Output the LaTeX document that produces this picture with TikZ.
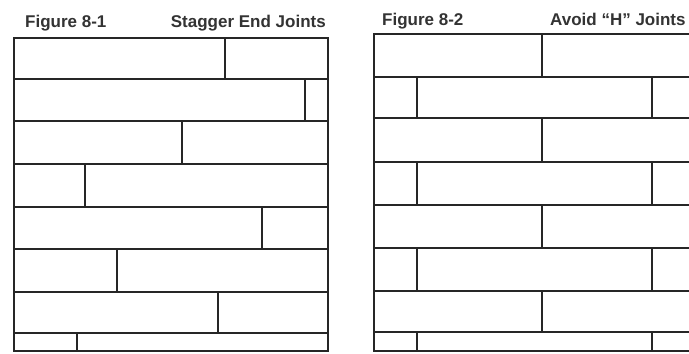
\documentclass[tikz,border=0pt]{standalone}
\usepackage{fontspec}
\setmainfont{Liberation Sans}
\begin{document}
\begin{tikzpicture}[x=1bp,y=-1bp,
  brick/.style={line width=2.5bp, draw=black!85, line cap=rect},
  caption/.style={font=\fontsize{17bp}{19bp}\selectfont\bfseries, text=black!80, inner sep=0pt, anchor=base west}]
\useasboundingbox (0,0) rectangle (689,353);
\clip (0,0) rectangle (689,353);
\fill[white] (0,0) rectangle (689,353);
% titles
\node[caption] (t1) at (25,27) {Figure 8-1};
\node[caption, anchor=base east] (t2) at (326,27) {Stagger End Joints};
\node[caption] (t3) at (382,25) {Figure 8-2};
\node[caption] (t4) at (550,25) {Avoid “H” Joints};
% left figure: staggered joints
\draw[brick] (14,38) rectangle (328,351);
\foreach \y in {79,121,164,207,249,292,333} \draw[brick] (14,\y) -- (328,\y);
\foreach \x/\ya/\yb in {225/38/79, 305/79/121, 182/121/164, 85/164/207, 262/207/249, 117/249/292, 218/292/333, 77/333/351}
  \draw[brick] (\x,\ya) -- (\x,\yb);
% right figure: H joints
\draw[brick] (700,34) -- (374,34) -- (374,351) -- (700,351);
\foreach \y in {77,118,162,205,248,291,332} \draw[brick] (374,\y) -- (700,\y);
\foreach \ya/\yb in {34/77, 118/162, 205/248, 291/332}
  \draw[brick] (542,\ya) -- (542,\yb);
\foreach \ya/\yb in {77/118, 162/205, 248/291, 332/351}
  { \draw[brick] (417,\ya) -- (417,\yb); \draw[brick] (652,\ya) -- (652,\yb); }
\end{tikzpicture}
\end{document}
